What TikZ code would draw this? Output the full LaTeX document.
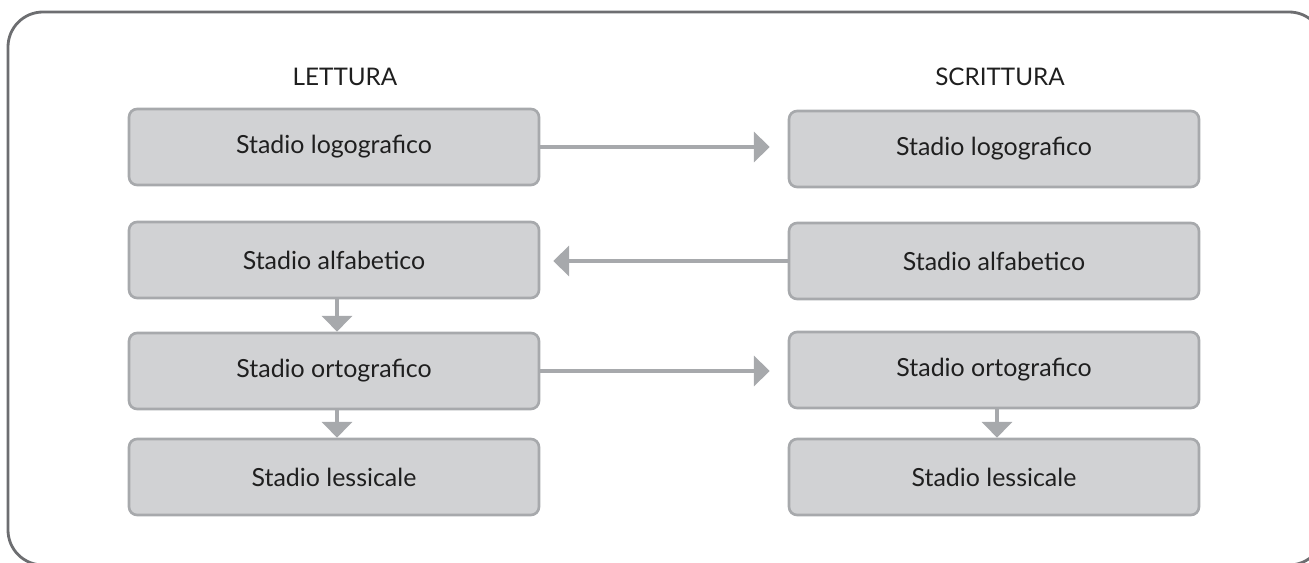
\documentclass[tikz,border=0pt]{standalone}
\usepackage{fontspec}
\setmainfont{Lato}
\usepackage{tikz}
\usetikzlibrary{positioning}
\usetikzlibrary{arrows.meta}
\definecolor{boxfill}{HTML}{D1D2D4}
\definecolor{boxline}{HTML}{A7A9AC}
\definecolor{frameline}{HTML}{6D6E71}

\begin{document}
\begin{tikzpicture}[x=0.02cm, y=-0.02cm,
    stadio/.style={draw=boxline, fill=boxfill, line width=1.5pt, rounded corners=0.16cm,
        minimum width=8.2cm, minimum height=1.52cm, font=\fontsize{14.2}{16}\selectfont, text=black!88},
    titolo/.style={font=\fontsize{13.8}{16}\selectfont, text=black!88},
    freccia/.style={draw=boxline, line width=2.8pt, -{Triangle[length=9pt,width=17pt]}}]
        \useasboundingbox (0,0) rectangle (1309,563);
        \clip (0,0) rectangle (1309,563);
        \draw[frameline, line width=1.6pt, rounded corners=0.7cm] (8,12) rectangle (1324,565);
        % titles
        \node[titolo] (lettura) at (345,77) {LETTURA};
        \node[titolo] (scrittura) at (1000,77) {SCRITTURA};
        % nodes
        \node[stadio] (l1) at (334,147) {Stadio logografico};
        \node[stadio] (l2) at (334,260) {Stadio alfabetico};
        \node[stadio] (l3) at (334,371) {Stadio ortografico};
        \node[stadio] (l4) at (334,477) {Stadio lessicale};
        \node[stadio] (r1) at (994,149) {Stadio logografico};
        \node[stadio] (r2) at (994,261) {Stadio alfabetico};
        \node[stadio] (r3) at (994,370) {Stadio ortografico};
        \node[stadio] (r4) at (994,477) {Stadio lessicale};
        % arrows
        \draw[freccia, shorten >=0.36cm] (l1.east) -- (l1.east -| r1.west);
        \draw[freccia, shorten >=0.26cm] (r2.west) -- (r2.west -| l2.east);
        \draw[freccia, shorten >=0.36cm] (l3.east) -- (l3.east -| r3.west);
        \draw[freccia] ([xshift=0.06cm]l2.south) -- ([xshift=0.06cm]l3.north);
        \draw[freccia] ([xshift=0.06cm]l3.south) -- ([xshift=0.06cm]l4.north);
        \draw[freccia] ([xshift=0.06cm]r3.south) -- ([xshift=0.06cm]r4.north);
\end{tikzpicture}
\end{document}
